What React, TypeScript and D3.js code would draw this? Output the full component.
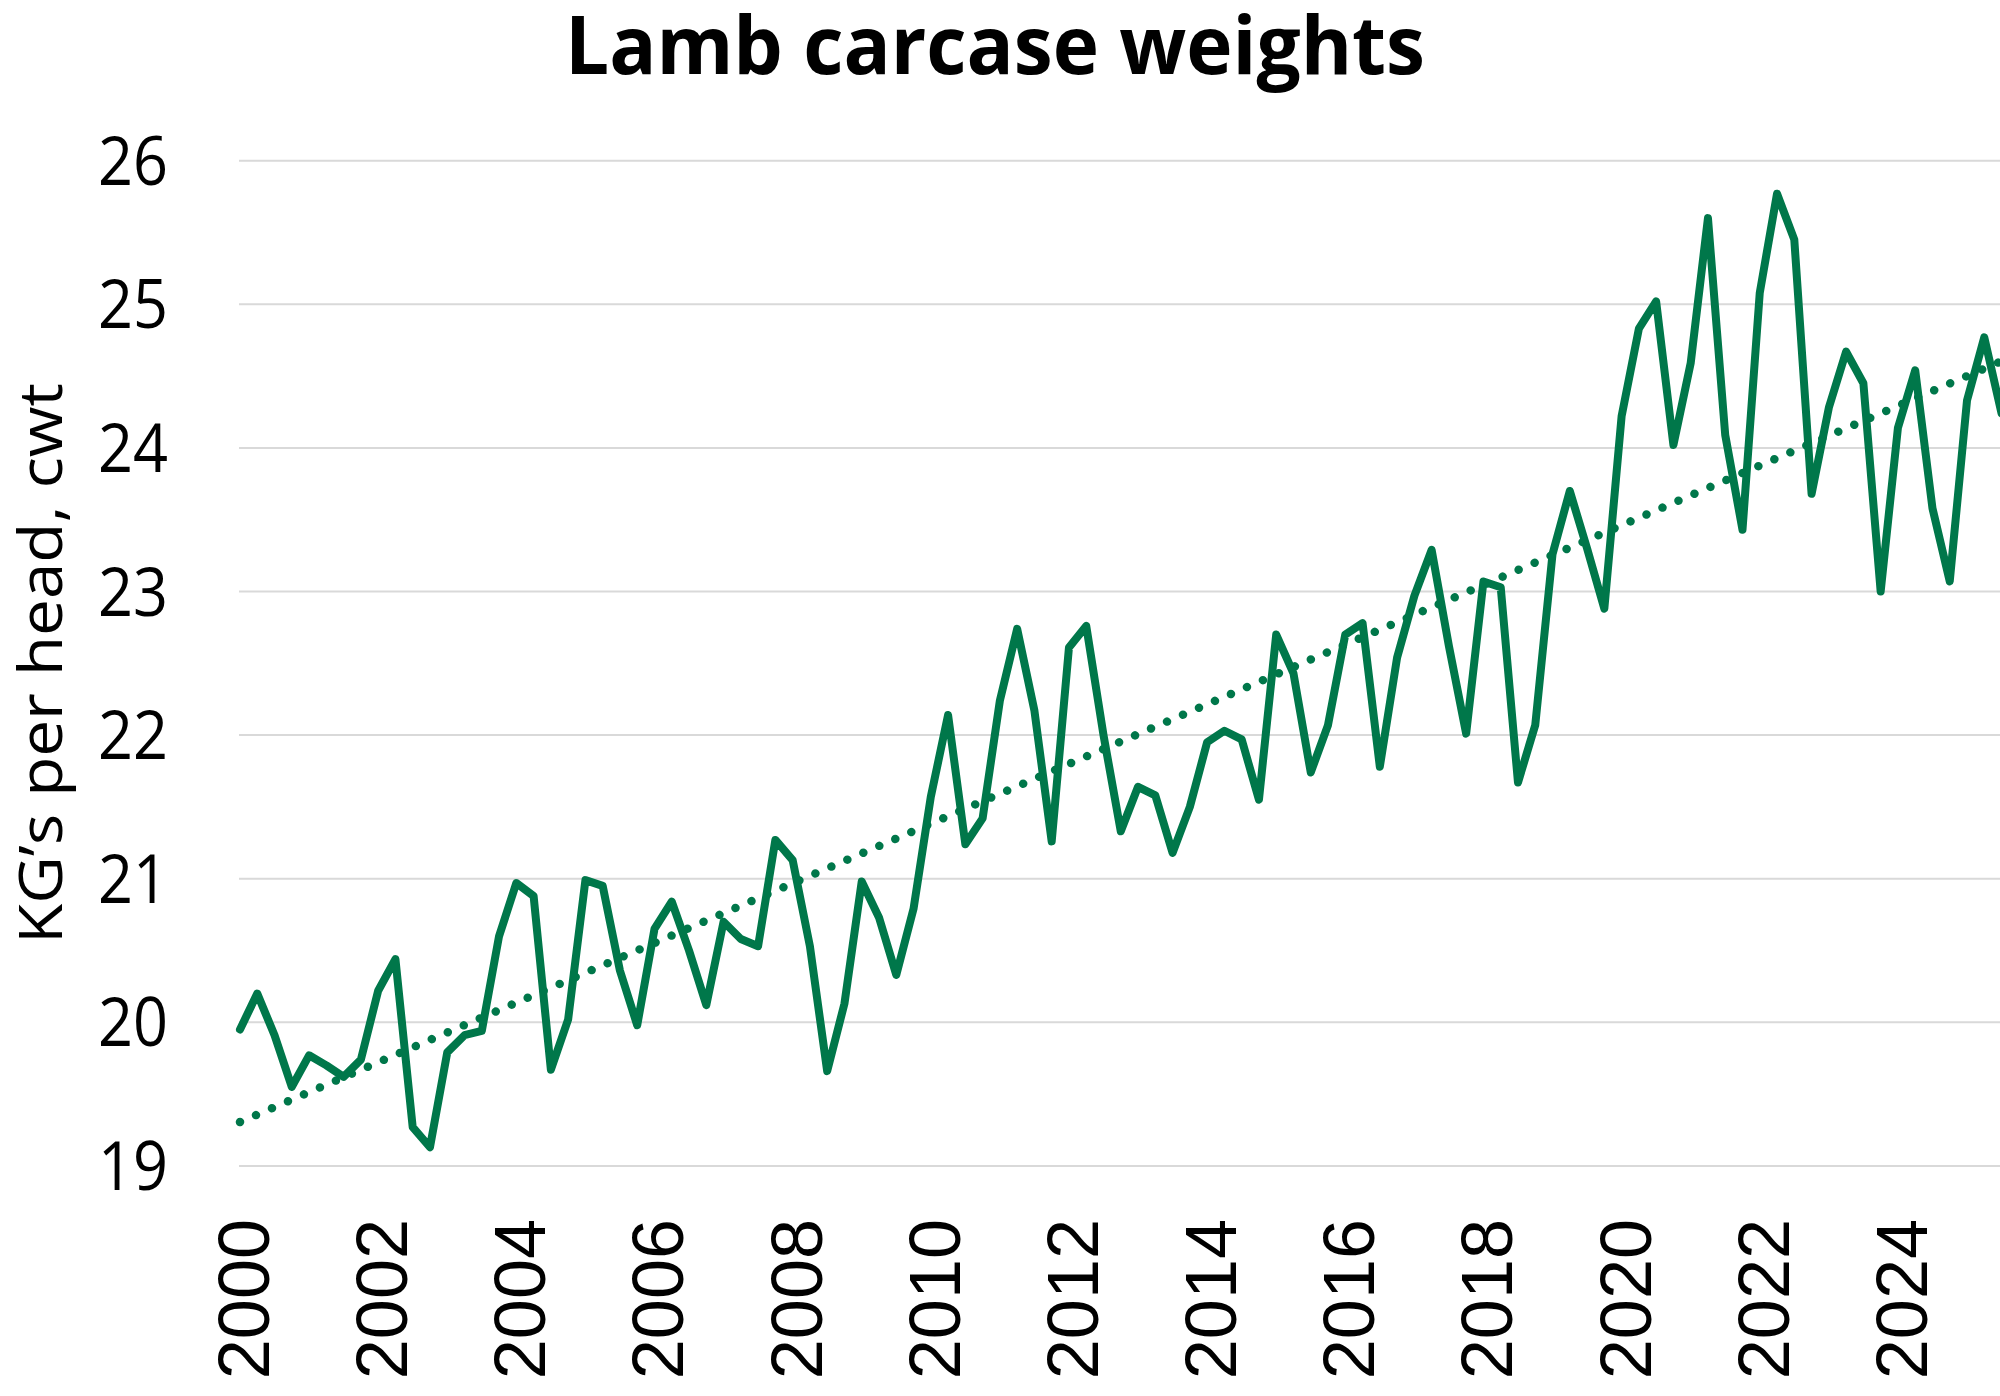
import React from "react";
import * as d3 from "d3";

// Quarterly lamb carcase weights, 2000 Q1 onward (KG's per head, cwt)
const weights: number[] = [
  19.95, 20.2, 19.91, 19.55, 19.77, 19.7, 19.62, 19.74,
  20.22, 20.44, 19.27, 19.13, 19.79, 19.91, 19.94, 20.6,
  20.97, 20.88, 19.67, 20.02, 20.99, 20.95, 20.36, 19.98,
  20.65, 20.84, 20.5, 20.12, 20.7, 20.58, 20.53, 21.27,
  21.13, 20.53, 19.66, 20.13, 20.98, 20.73, 20.33, 20.79,
  21.57, 22.14, 21.24, 21.42, 22.24, 22.74, 22.17, 21.26,
  22.61, 22.76, 22.0, 21.33, 21.64, 21.58, 21.18, 21.5,
  21.95, 22.03, 21.97, 21.55, 22.7, 22.43, 21.74, 22.07,
  22.7, 22.78, 21.78, 22.54, 22.97, 23.29, 22.62, 22.01,
  23.07, 23.03, 21.67, 22.07, 23.26, 23.7, 23.3, 22.88,
  24.22, 24.83, 25.02, 24.02, 24.59, 25.6, 24.09, 23.43,
  25.08, 25.77, 25.45, 23.68, 24.28, 24.67, 24.45, 23.0,
  24.14, 24.54, 23.58, 23.07, 24.33, 24.77, 24.24,
];

const yearLabels: string[] = [
  "2000", "2002", "2004", "2006", "2008", "2010", "2012",
  "2014", "2016", "2018", "2020", "2022", "2024",
];
const yTicks: number[] = [19, 20, 21, 22, 23, 24, 25, 26];

const TITLE = "Lamb carcase weights";
const Y_TITLE = "KG\u2019s per head, cwt";
const GREEN = "#00774A";

export default function App() {
  const W = 2000;
  const H = 1396;
  const x0 = 240;
  const step = 17.27;
  const n = weights.length;

  const x = d3.scaleLinear().domain([0, n - 1]).range([x0, x0 + (n - 1) * step]);
  const y = d3.scaleLinear().domain([19, 26]).range([1165.9, 160.7]);

  const line = d3
    .line<number>()
    .x((_, i) => x(i))
    .y((d) => y(d));

  // least squares linear trend
  const idx = weights.map((_, i) => i);
  const mx = d3.mean(idx) as number;
  const my = d3.mean(weights) as number;
  let sxy = 0;
  let sxx = 0;
  weights.forEach((v, i) => {
    sxy += (i - mx) * (v - my);
    sxx += (i - mx) * (i - mx);
  });
  const slope = sxy / sxx;
  const intercept = my - slope * mx;
  const trendPts: [number, number][] = [
    [x(0), y(intercept)],
    [x(n - 1), y(intercept + slope * (n - 1))],
  ];

  return (
    <svg
      width={W}
      height={H}
      style={{ position: "absolute", left: 0, top: 0, display: "block", background: "#fff" }}
    >
      <rect x={0} y={0} width={W} height={H} fill="#fff" />
      <defs>
        <clipPath id="plotclip">
          <rect x={0} y={0} width={W} height={H} />
        </clipPath>
      </defs>
      <text
        x={565}
        y={74}
        fontFamily="'Open Sans', 'Noto Sans', sans-serif"
        fontWeight={700}
        fontSize={81}
        textLength={860}
        lengthAdjust="spacingAndGlyphs"
        fill="#000"
      >
        {TITLE}
      </text>

      {yTicks.map((t) => (
        <g key={t}>
          <line x1={239} x2={W} y1={y(t)} y2={y(t)} stroke="#D9D9D9" strokeWidth={2} />
          <text
            x={168}
            y={y(t) + 24}
            textAnchor="end"
            fontFamily="'Open Sans', 'Noto Sans', sans-serif"
            fontSize={67}
            textLength={70}
            lengthAdjust="spacingAndGlyphs"
            fill="#000"
          >
            {t}
          </text>
        </g>
      ))}

      <text
        transform="translate(62,663.5) rotate(-90)"
        textAnchor="middle"
        fontFamily="'Open Sans', 'Noto Sans', sans-serif"
        fontSize={60}
        textLength={561}
        lengthAdjust="spacingAndGlyphs"
        fill="#000"
      >
        {Y_TITLE}
      </text>

      {yearLabels.map((lab, k) => {
        const px = x(k * 8) + 29;
        return (
          <text
            key={lab}
            transform={`translate(${px},1219) rotate(-90)`}
            textAnchor="end"
            fontFamily="'Liberation Sans', Arial, sans-serif"
            fontSize={72}
            fill="#000"
          >
            {lab}
          </text>
        );
      })}

      <g clipPath="url(#plotclip)">
        <path
          d={d3.line()(trendPts) || ""}
          fill="none"
          stroke={GREEN}
          strokeWidth={8.5}
          strokeLinecap="round"
          strokeDasharray="0.01 17.4"
        />
        <path
          d={line(weights) || ""}
          fill="none"
          stroke={GREEN}
          strokeWidth={8}
          strokeLinejoin="round"
          strokeLinecap="round"
        />
      </g>
    </svg>
  );
}
